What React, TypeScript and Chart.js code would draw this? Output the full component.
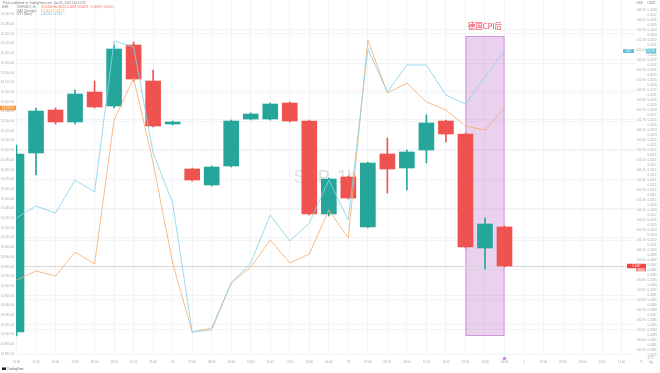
import React, { useEffect, useRef } from "react";
import { Chart, registerables } from "chart.js";

Chart.register(...registerables);

// ---------- data ----------
const xLabels = [
  "14:00", "15:00", "16:00", "17:00", "18:00", "19:00", "20:00", "21:00", "30",
  "07:00", "08:00", "09:00", "10:00", "11:00", "12:00", "13:00", "14:00", "31",
  "07:00", "08:00", "09:00", "10:00", "11:00", "12:00", "13:00", "14:00", "1",
  "07:00", "08:00", "09:00", "10:00", "11:00",
];

// SXP candles (1h)
const opens = [0.40836, 0.41194, 0.4128, 0.41256, 0.41316, 0.41288, 0.4141, 0.41338, 0.41252, 0.41162, 0.4113, 0.41168, 0.41262, 0.41262, 0.41294, 0.41258, 0.41072, 0.41146, 0.41046, 0.41192, 0.41164, 0.412, 0.41258, 0.41232, 0.41004, 0.41046];
const highs = [0.4121, 0.41284, 0.41284, 0.4132, 0.41338, 0.4141, 0.41416, 0.4136, 0.41258, 0.41164, 0.41168, 0.4126, 0.41274, 0.41294, 0.41296, 0.4126, 0.41144, 0.41148, 0.41176, 0.41224, 0.412, 0.4127, 0.4126, 0.41234, 0.41064, 0.41048];
const lows = [0.40828, 0.4115, 0.41252, 0.41252, 0.41284, 0.41284, 0.41338, 0.41246, 0.4125, 0.41138, 0.41128, 0.41166, 0.4126, 0.4126, 0.41256, 0.4107, 0.41068, 0.41102, 0.41044, 0.41114, 0.4112, 0.41174, 0.41216, 0.41004, 0.40962, 0.40966];
const closes = [0.41192, 0.41278, 0.41256, 0.41312, 0.41286, 0.41402, 0.41342, 0.41248, 0.41256, 0.4114, 0.41166, 0.41258, 0.41272, 0.41292, 0.41258, 0.41072, 0.41142, 0.41104, 0.41174, 0.41162, 0.41196, 0.41254, 0.41232, 0.41006, 0.41052, 0.40968];

// comparison series
const orangeValues = [14966.3, 14975.6, 14970.5, 14995.2, 14982.8, 15131.3, 15174.6, 15086.9, 14983.9, 14912.7, 14916.9, 14963.3, 14979.7, 15007.6, 14983.9, 14993.2, 15038.5, 15009.6, 15213.8, 15159.1, 15169.4, 15149.8, 15141.6, 15125.1, 15121.0, 15143.7];
const blueValues = [101.21, 101.27, 101.235, 101.4, 101.34, 102.095, 102.065, 101.535, 101.285, 100.64, 100.65, 100.885, 100.985, 101.225, 101.095, 101.185, 101.4, 101.2, 102.055, 101.84, 101.975, 101.975, 101.825, 101.78, 101.915, 102.045];

// highlighted period (bar indexes, candle-price range)
const highlightFrom = 23;
const highlightTo = 25;
const highlightTop = 0.41428;
const highlightBottom = 0.40828;
const highlightLabel = "德国CPI后";

const symbolTitle = "SXPUSDT, 1h";
const orangeTitle = "DAX (Orange)";
const blueTitle = "DXY (Blue)";
const watermark = "SXP, 1h";
const publishedText = "Pin1s published on TradingView.com, Jan 31, 2023 14:14 UTC";

// scale ranges
const candleMin = 0.40788, candleMax = 0.415, candleStep = 0.0001;
const blueMin = 100.52, blueMax = 102.3, blueStep = 0.05;
const orangeMin = 14888, orangeMax = 15255, orangeStep = 10;

// ---------- styles ----------
const GREEN = "#26a69a";
const RED = "#ef5350";
const ORANGE = "#f7ae70";
const BLUE = "#86d4e6";
const GRID = "#f3f4f6";
const TICK = "#a8a8a8";
const FONT = "'Liberation Sans', Arial, sans-serif";

function makeTicks(min: number, max: number, step: number, topSkip: number) {
  const out: { value: number }[] = [];
  const k0 = Math.ceil(min / step - 1e-9);
  const k1 = Math.floor((max - topSkip) / step + 1e-9);
  for (let k = k0; k <= k1; k++) out.push({ value: +(k * step).toFixed(6) });
  return out;
}

const candleColors = opens.map((o, i) => (closes[i] >= o ? GREEN : RED));

function fmtThousands(v: number) {
  return v.toLocaleString("en-US", { minimumFractionDigits: 2, maximumFractionDigits: 2 });
}

function drawTag(ctx: CanvasRenderingContext2D, x: number, y: number, w: number, h: number, fill: string, text: string, color = "#fff") {
  ctx.fillStyle = fill;
  ctx.fillRect(x, y - h / 2, w, h);
  ctx.fillStyle = color;
  ctx.font = `2.6px ${FONT}`;
  ctx.textAlign = "center";
  ctx.textBaseline = "middle";
  ctx.fillText(text, x + w / 2, y + 0.2);
}

const overlayPlugin = {
  id: "overlay",
  beforeDatasetsDraw(chart: any) {
    const { ctx, chartArea: a, scales } = chart;
    const xs = scales.x;
    const yc = scales.yC;
    ctx.save();
    // watermark
    ctx.font = `18px ${FONT}`;
    ctx.fillStyle = "rgba(120,123,134,0.25)";
    ctx.textAlign = "center";
    ctx.textBaseline = "middle";
    ctx.fillText(watermark, (a.left + a.right) / 2, (a.top + a.bottom) / 2);
    // highlight box
    const x0 = xs.getPixelForValue(highlightFrom);
    const x1 = xs.getPixelForValue(highlightTo);
    const y0 = yc.getPixelForValue(highlightTop);
    const y1 = yc.getPixelForValue(highlightBottom);
    ctx.fillStyle = "rgba(186,104,200,0.3)";
    ctx.fillRect(x0, y0, x1 - x0, y1 - y0);
    ctx.strokeStyle = "rgba(186,104,200,0.55)";
    ctx.lineWidth = 1;
    ctx.strokeRect(x0 + 0.5, y0 + 0.5, x1 - x0 - 1, y1 - y0 - 1);
    // last price line
    const py = Math.round(yc.getPixelForValue(closes[closes.length - 1])) + 0.5;
    ctx.strokeStyle = "#d6d6d6";
    ctx.beginPath();
    ctx.moveTo(a.left, py);
    ctx.lineTo(a.right, py);
    ctx.stroke();
    ctx.restore();
  },
  afterDraw(chart: any) {
    const { ctx, scales } = chart;
    const xs = scales.x, yc = scales.yC, yb = scales.yB, yo = scales.yO;
    ctx.save();
    const n = closes.length - 1;

    // annotation label
    const x0 = xs.getPixelForValue(highlightFrom);
    const x1 = xs.getPixelForValue(highlightTo);
    const y0 = yc.getPixelForValue(highlightTop);
    ctx.font = `7.5px 'Noto Sans CJK SC', sans-serif`;
    ctx.fillStyle = "#f23645";
    ctx.textAlign = "center";
    ctx.textBaseline = "middle";
    ctx.fillText(highlightLabel, (x0 + x1) / 2, y0 - 10);

    // bottom marker
    ctx.fillStyle = "#c98fd6";
    ctx.beginPath();
    ctx.arc(x1, 358.5, 1.8, 0, Math.PI * 2);
    ctx.fill();

    // tags
    const oy = yo.getPixelForValue(orangeValues[n]);
    drawTag(ctx, 0, oy, 16, 4.5, "#f7963e", fmtThousands(orangeValues[n]));
    const by = yb.getPixelForValue(blueValues[n]);
    drawTag(ctx, 623, by, 11, 4, "#5fc3dc", "DXY");
    drawTag(ctx, yc.left, by, 10, 4.5, "#5fc3dc", blueValues[n].toFixed(2));
    const cy = yc.getPixelForValue(closes[n]);
    drawTag(ctx, 627, cy, 19, 4.5, "#f0443f", closes[n].toFixed(4));
    drawTag(ctx, 636, cy + 3.8, 10, 3, "#f47a76", "35:12");

    // legend
    ctx.textAlign = "left";
    ctx.textBaseline = "middle";
    ctx.font = `3px ${FONT}`;
    ctx.fillStyle = "#7a7a7a";
    ctx.fillText(publishedText, 3, 3);
    ctx.fillText("EUR", 2, 7.5);
    const chg = closes[n] - closes[n - 1];
    const rows: [string, string, string][] = [
      [symbolTitle, `O${opens[n].toFixed(4)} H${highs[n].toFixed(4)} L${lows[n].toFixed(4)} C${closes[n].toFixed(4)} ${(chg >= 0 ? "+" : "−") + Math.abs(chg).toFixed(4)} (${(chg >= 0 ? "+" : "−") + Math.abs((chg / closes[n - 1]) * 100).toFixed(2)}%)`, "#f26a5a"],
      [orangeTitle, `${fmtThousands(orangeValues[n])} +${(orangeValues[n] - orangeValues[n - 1]).toFixed(2)}`, "#f39a4c"],
      [blueTitle, `${blueValues[n].toFixed(3)} +${(blueValues[n] - blueValues[n - 1]).toFixed(3)}`, "#5cc2dc"],
    ];
    rows.forEach((r, i) => {
      const y = 7.3 + i * 3.6;
      ctx.fillStyle = "#7a7a7a";
      ctx.fillText(r[0], 17, y);
      ctx.fillStyle = r[2];
      ctx.fillText(r[1], 41, y);
    });
    // axis headers
    ctx.fillStyle = "#7a7a7a";
    ctx.fillText("USD", yb.left + 1.5, 3);
    ctx.fillText("USDT", yc.left + 1.5, 3);
    // bottom right
    ctx.fillStyle = TICK;
    ctx.fillText("UTC", yc.left + 2, 358);
    ctx.fillText("%", yb.left + 5, 362.5);
    ctx.fillText("log", yc.left + 3, 362.5);

    // logo
    ctx.fillStyle = "#131722";
    ctx.fillRect(2, 367.5, 4, 2.4);
    ctx.fillStyle = "#666";
    ctx.font = `3px ${FONT}`;
    ctx.fillText("TradingView", 7, 368.8);
    ctx.restore();
  },
};

function yAxisBase() {
  return {
    offset: false,
    beginAtZero: false,
    border: { display: false },
  };
}

export default function App() {
  const ref = useRef<HTMLCanvasElement>(null);

  useEffect(() => {
    const canvas = ref.current;
    if (!canvas) return;
    const chart = new Chart(canvas, {
      type: "bar",
      data: {
        datasets: [
          {
            type: "line",
            label: blueTitle,
            data: blueValues.map((v, i) => ({ x: i, y: v })),
            xAxisID: "x",
            yAxisID: "yB",
            borderColor: BLUE,
            borderWidth: 0.85,
            pointRadius: 0,
            tension: 0,
            order: 0,
          },
          {
            type: "line",
            label: orangeTitle,
            data: orangeValues.map((v, i) => ({ x: i, y: v })),
            xAxisID: "x",
            yAxisID: "yO",
            borderColor: ORANGE,
            borderWidth: 0.85,
            pointRadius: 0,
            tension: 0,
            order: 0,
          },
          {
            type: "bar",
            label: "wicks",
            data: highs.map((h, i) => ({ x: i, y: [lows[i], h] })),
            xAxisID: "x",
            yAxisID: "yC",
            backgroundColor: candleColors,
            barThickness: 1,
            grouped: false,
            order: 2,
          },
          {
            type: "bar",
            label: symbolTitle,
            data: opens.map((o, i) => ({ x: i, y: [o, closes[i]] })),
            xAxisID: "x",
            yAxisID: "yC",
            backgroundColor: candleColors,
            barThickness: 15,
            grouped: false,
            order: 1,
          },
        ] as any,
      },
      options: {
        responsive: false,
        animation: false,
        devicePixelRatio: 1,
        layout: { padding: 0 },
        plugins: { legend: { display: false }, tooltip: { enabled: false }, title: { display: false } },
        scales: {
          x: {
            type: "linear",
            position: "bottom",
            min: -0.0256,
            max: 31.686,
            offset: false,
            grid: { color: GRID, lineWidth: 1, drawTicks: false, offset: false },
            border: { display: false },
            afterBuildTicks: (s: any) => {
              s.ticks = xLabels.map((_, i) => ({ value: i }));
            },
            afterFit: (s: any) => {
              s.height = 17;
              s.paddingLeft = 0;
              s.paddingRight = 0;
            },
            ticks: {
              autoSkip: false,
              maxRotation: 0,
              padding: 4,
              color: TICK,
              font: { size: 3, family: FONT },
              callback: (v: any) => xLabels[Math.round(v)] ?? "",
            },
          },
          yO: {
            ...yAxisBase(),
            type: "linear",
            position: "left",
            min: orangeMin,
            max: orangeMax,
            afterBuildTicks: (s: any) => {
              s.ticks = makeTicks(orangeMin, orangeMax, orangeStep, 9);
            },
            afterFit: (s: any) => {
              s.width = 16;
              s.paddingTop = 0;
              s.paddingBottom = 0;
            },
            grid: {
              drawTicks: false,
              color: (c: any) => (c.tick && Math.round(c.tick.value / orangeStep) % 3 === 1 ? GRID : "rgba(0,0,0,0)"),
            },
            ticks: {
              autoSkip: false,
              padding: 2,
              color: TICK,
              font: { size: 3, family: FONT },
              callback: (v: any) => fmtThousands(Number(v)),
            },
          },
          yB: {
            ...yAxisBase(),
            type: "linear",
            position: "right",
            weight: 0,
            min: blueMin,
            max: blueMax,
            afterBuildTicks: (s: any) => {
              s.ticks = makeTicks(blueMin, blueMax, blueStep, 0.04);
            },
            afterFit: (s: any) => {
              s.width = 11;
              s.paddingTop = 0;
              s.paddingBottom = 0;
            },
            grid: {
              drawTicks: false,
              color: (c: any) => (c.tick && Math.round(c.tick.value / blueStep) % 3 === 0 ? GRID : "rgba(0,0,0,0)"),
            },
            ticks: {
              autoSkip: false,
              padding: 1.5,
              crossAlign: "near",
              color: TICK,
              font: { size: 3, family: FONT },
              callback: (v: any) => Number(v).toFixed(2),
            },
          },
          yC: {
            ...yAxisBase(),
            type: "linear",
            position: "right",
            weight: 1,
            min: candleMin,
            max: candleMax,
            afterBuildTicks: (s: any) => {
              s.ticks = makeTicks(candleMin, candleMax, candleStep, 0.00012);
            },
            afterFit: (s: any) => {
              s.width = 14;
              s.paddingTop = 0;
              s.paddingBottom = 0;
            },
            grid: { display: false, drawTicks: false },
            ticks: {
              autoSkip: false,
              padding: 1.5,
              crossAlign: "near",
              color: TICK,
              font: { size: 3, family: FONT },
              callback: (v: any) => Number(v).toFixed(4),
            },
          },
        },
      } as any,
      plugins: [overlayPlugin],
    });
    return () => chart.destroy();
  }, []);

  return (
    <div style={{ position: "absolute", left: 0, top: 0, width: 660, height: 373, background: "#ffffff" }}>
      <canvas ref={ref} width={660} height={373} style={{ display: "block", width: 660, height: 373 }} />
    </div>
  );
}
